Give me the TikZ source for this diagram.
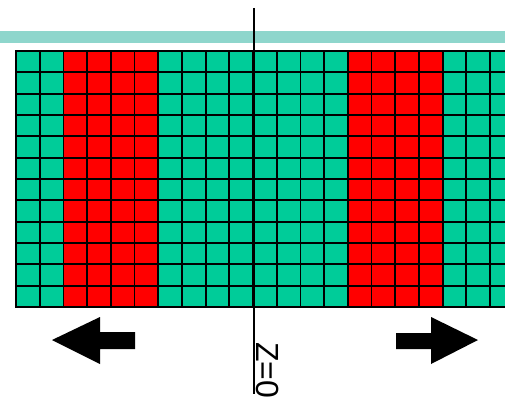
\documentclass[tikz,border=0pt]{standalone}
\usepackage{fontspec}
\setmainfont{Liberation Sans}
\usepackage{tikz}
\definecolor{bandteal}{RGB}{142,214,204}
\definecolor{cellgreen}{RGB}{0,204,153}
\definecolor{cellred}{RGB}{255,0,0}

\begin{document}
\begin{tikzpicture}[x=1pt, y=-1pt,
    cell/.style={draw=black, line width=1.8pt},
    band/.style={fill=bandteal},
    axis/.style={draw=black, line width=1.5pt},
    shiftarrow/.style={fill=black},
    zlabel/.style={font=\fontsize{32}{32}\selectfont, rotate=-90, inner sep=0pt, anchor=base west}
]
    \useasboundingbox (0,0) rectangle (505,401);
    \clip (0,0) rectangle (505,401);

    % Top band
    \fill[band] (0,31) rectangle (505,43);

    % Green cells
    \foreach \col in {0,...,20} {
        \foreach \row in {0,...,11} {
            \filldraw[cell, fill=cellgreen] ({16+23.7*\col},{51+21.33*\row}) rectangle ++(23.7,21.33);
        }
    }

    % Red bands
    \foreach \col in {2,...,5,14,15,16,17} {
        \foreach \row in {0,...,11} {
            \filldraw[cell, fill=cellred] ({16+23.7*\col},{51+21.33*\row}) rectangle ++(23.7,21.33);
        }
    }

    % Axis at Z=0
    \coordinate (axistop) at (254,8);
    \coordinate (axisbottom) at (254,394);
    \draw[axis] (axistop) -- (axisbottom);
    \node[zlabel] (zzero) at (256.5,342) {Z=0};

    % Arrows
    \fill[shiftarrow] (52,340) -- (100,317) -- (100,332) -- (135,332) -- (135,349)
        -- (100,349) -- (100,364) -- cycle;
    \fill[shiftarrow] (478,340) -- (431,317) -- (431,333) -- (396,333) -- (396,349)
        -- (431,349) -- (431,364) -- cycle;
\end{tikzpicture}
\end{document}
